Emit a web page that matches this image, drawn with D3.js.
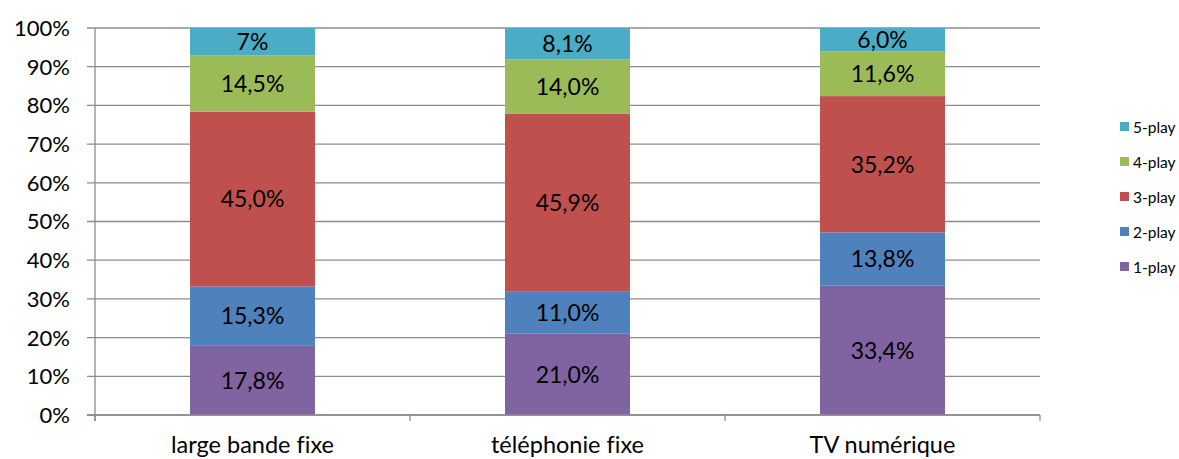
<!DOCTYPE html>
<html>
<head>
<meta charset="utf-8">
<script src="https://cdn.jsdelivr.net/npm/d3@7"></script>
<style>
  body { margin: 0; background: #fff; }
  svg text { font-family: Lato, "Open Sans", sans-serif; fill: #000; font-variant-ligatures: none; }
</style>
</head>
<body>
<div id="chart"></div>
<script>
// categories and series (percent values as shown in labels)
var categories = ["large bande fixe", "téléphonie fixe", "TV numérique"];
var seriesNames = ["1-play", "2-play", "3-play", "4-play", "5-play"];
var play1 = [17.8, 21.0, 33.4];
var play2 = [15.3, 11.0, 13.8];
var play3 = [45.0, 45.9, 35.2];
var play4 = [14.5, 14.0, 11.6];
var play5 = [7, 8.1, 6.0];
var labels5 = ["7%", "8,1%", "6,0%"];
var yTicks = [0, 10, 20, 30, 40, 50, 60, 70, 80, 90, 100];
var colors = ["#8064A2", "#4F81BD", "#C0504D", "#9BBB59", "#4BACC6"];

var allSeries = [play1, play2, play3, play4, play5];

// build rows, normalized to 100%
var rows = categories.map(function(c, i) {
  var r = { cat: c };
  var tot = 0;
  seriesNames.forEach(function(s, j) { tot += allSeries[j][i]; });
  seriesNames.forEach(function(s, j) { r[s] = allSeries[j][i] / tot * 100; r[s + "_raw"] = allSeries[j][i]; });
  return r;
});

var W = 1179, H = 459;
var mLeft = 95, mRight = 1040, mTop = 28, mBottom = 415;

var svg = d3.select("#chart").append("svg").attr("width", W).attr("height", H);

var x = d3.scaleBand().domain(categories).range([mLeft, mRight]).paddingInner(0).paddingOuter(0);
var y = d3.scaleLinear().domain([0, 100]).range([mBottom, mTop]);

// gridlines
svg.append("g").selectAll("line").data(yTicks).enter().append("line")
  .attr("x1", mLeft - 8).attr("x2", mRight)
  .attr("y1", function(d) { return y(d); }).attr("y2", function(d) { return y(d); })
  .attr("stroke", "#8c8c8c").attr("stroke-width", 1.3);

// y labels
svg.append("g").selectAll("text").data(yTicks).enter().append("text")
  .attr("x", mLeft - 25).attr("y", function(d) { return y(d); })
  .attr("dy", "0.36em").attr("text-anchor", "end")
  .style("font-size", "22px")
  .text(function(d) { return d + "%"; });

// stack
var stack = d3.stack().keys(seriesNames);
var layers = stack(rows);
var barW = 125;

var lg = svg.append("g").selectAll("g").data(layers).enter().append("g")
  .attr("fill", function(d, i) { return colors[i]; });

lg.selectAll("rect").data(function(d) { return d; }).enter().append("rect")
  .attr("x", function(d) { return x(d.data.cat) + x.bandwidth() / 2 - barW / 2; })
  .attr("width", barW)
  .attr("y", function(d) { return y(d[1]); })
  .attr("height", function(d) { return y(d[0]) - y(d[1]); });

// data labels
layers.forEach(function(layer, j) {
  svg.append("g").selectAll("text").data(layer).enter().append("text")
    .attr("x", function(d) { return x(d.data.cat) + x.bandwidth() / 2; })
    .attr("y", function(d) { return (y(d[0]) + y(d[1])) / 2; })
    .attr("dy", "0.36em").attr("text-anchor", "middle")
    .style("font-size", "23px")
    .text(function(d, i) {
      if (j === 4) return labels5[i];
      return d.data[layer.key + "_raw"].toFixed(1).replace(".", ",") + "%";
    });
});

// axes lines
svg.append("line").attr("x1", mLeft).attr("x2", mLeft).attr("y1", mTop).attr("y2", mBottom + 6)
  .attr("stroke", "#8c8c8c").attr("stroke-width", 1.3);
svg.append("line").attr("x1", mLeft - 8).attr("x2", mRight).attr("y1", mBottom).attr("y2", mBottom)
  .attr("stroke", "#8c8c8c").attr("stroke-width", 1.3);
var xt = categories.map(function(c) { return x(c); }).concat([mRight]);
svg.append("g").selectAll("line").data(xt).enter().append("line")
  .attr("x1", function(d) { return d; }).attr("x2", function(d) { return d; })
  .attr("y1", mBottom).attr("y2", mBottom + 6)
  .attr("stroke", "#8c8c8c").attr("stroke-width", 1.3);

// category labels
svg.append("g").selectAll("text").data(categories).enter().append("text")
  .attr("x", function(d) { return x(d) + x.bandwidth() / 2; })
  .attr("y", 453).attr("text-anchor", "middle")
  .style("font-size", "23.5px")
  .text(function(d) { return d; });

// legend
var legendNames = seriesNames.slice().reverse();
var leg = svg.append("g").selectAll("g").data(legendNames).enter().append("g")
  .attr("transform", function(d, i) { return "translate(1120," + (127 + i * 35) + ")"; });
leg.append("rect").attr("x", 0).attr("y", -5).attr("width", 9).attr("height", 9)
  .attr("fill", function(d) { return colors[seriesNames.indexOf(d)]; });
leg.append("text").attr("x", 13).attr("y", 0).attr("dy", "0.36em")
  .style("font-size", "15.5px")
  .text(function(d) { return d; });
</script>
</body>
</html>
